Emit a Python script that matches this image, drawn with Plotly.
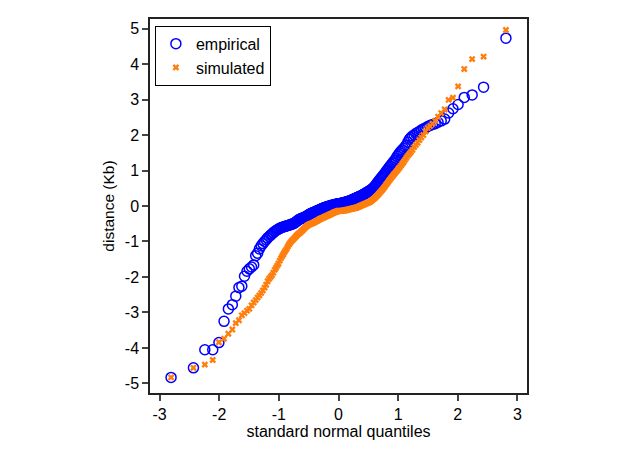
import plotly.graph_objects as go

# Standard normal quantiles (plotting positions) for 200 ordered values
q_low = [-2.807, -2.432, -2.241, -2.108, -2.005, -1.919, -1.846, -1.780, -1.722, -1.669,
         -1.621, -1.576, -1.534, -1.495, -1.458, -1.422, -1.388, -1.356, -1.326, -1.296,
         -1.268, -1.240, -1.213, -1.188, -1.163, -1.138, -1.115, -1.092, -1.069, -1.047,
         -1.026, -1.005, -0.984, -0.964, -0.944, -0.925, -0.906, -0.887, -0.868, -0.850,
         -0.833, -0.815, -0.798, -0.781, -0.764, -0.747, -0.731, -0.715, -0.699, -0.683,
         -0.667, -0.652, -0.636, -0.621, -0.606, -0.590, -0.576, -0.561, -0.546, -0.532,
         -0.517, -0.503, -0.489, -0.475, -0.461, -0.447, -0.433, -0.419, -0.405, -0.392,
         -0.378, -0.365, -0.352, -0.338, -0.325, -0.312, -0.299, -0.286, -0.273, -0.260,
         -0.247, -0.234, -0.221, -0.208, -0.196, -0.183, -0.170, -0.157, -0.145, -0.132,
         -0.119, -0.107, -0.094, -0.082, -0.069, -0.056, -0.044, -0.031, -0.019, -0.006]
q_high = [0.006, 0.019, 0.031, 0.044, 0.056, 0.069, 0.082, 0.094, 0.107, 0.119,
          0.132, 0.145, 0.157, 0.170, 0.183, 0.196, 0.208, 0.221, 0.234, 0.247,
          0.260, 0.273, 0.286, 0.299, 0.312, 0.325, 0.338, 0.352, 0.365, 0.378,
          0.392, 0.405, 0.419, 0.433, 0.447, 0.461, 0.475, 0.489, 0.503, 0.517,
          0.532, 0.546, 0.561, 0.576, 0.590, 0.606, 0.621, 0.636, 0.652, 0.667,
          0.683, 0.699, 0.715, 0.731, 0.747, 0.764, 0.781, 0.798, 0.815, 0.833,
          0.850, 0.868, 0.887, 0.906, 0.925, 0.944, 0.964, 0.984, 1.005, 1.026,
          1.047, 1.069, 1.092, 1.115, 1.138, 1.163, 1.188, 1.213, 1.240, 1.268,
          1.296, 1.326, 1.356, 1.388, 1.422, 1.458, 1.495, 1.534, 1.576, 1.621,
          1.669, 1.722, 1.780, 1.846, 1.919, 2.005, 2.108, 2.241, 2.432, 2.807]

# Empirical distances (Kb), sorted
emp_low = [-4.83, -4.56, -4.05, -4.05, -3.85, -3.25, -2.90, -2.78, -2.54, -2.30,
           -2.26, -1.98, -1.84, -1.77, -1.72, -1.66, -1.40, -1.33, -1.21, -1.12,
           -1.06, -1.00, -0.95, -0.90, -0.86, -0.82, -0.79, -0.75, -0.72, -0.69,
           -0.67, -0.65, -0.63, -0.61, -0.60, -0.59, -0.58, -0.57, -0.56, -0.55,
           -0.54, -0.53, -0.52, -0.51, -0.50, -0.49, -0.47, -0.45, -0.43, -0.41,
           -0.39, -0.37, -0.36, -0.35, -0.34, -0.33, -0.32, -0.31, -0.30, -0.28,
           -0.27, -0.25, -0.24, -0.22, -0.21, -0.20, -0.19, -0.18, -0.17, -0.16,
           -0.15, -0.14, -0.13, -0.12, -0.11, -0.10, -0.09, -0.08, -0.07, -0.06,
           -0.05, -0.04, -0.04, -0.03, -0.02, -0.02, -0.01, 0.00, 0.00, 0.01,
           0.02, 0.02, 0.03, 0.03, 0.04, 0.04, 0.05, 0.05, 0.06, 0.06]
emp_high = [0.06, 0.07, 0.07, 0.08, 0.08, 0.09, 0.09, 0.10, 0.10, 0.11,
            0.12, 0.12, 0.13, 0.14, 0.14, 0.15, 0.16, 0.17, 0.18, 0.19,
            0.20, 0.21, 0.22, 0.23, 0.24, 0.25, 0.26, 0.27, 0.28, 0.29,
            0.30, 0.31, 0.33, 0.34, 0.35, 0.37, 0.38, 0.40, 0.41, 0.43,
            0.44, 0.46, 0.48, 0.50, 0.52, 0.55, 0.58, 0.62, 0.65, 0.69,
            0.72, 0.76, 0.79, 0.82, 0.86, 0.89, 0.93, 0.97, 1.01, 1.05,
            1.09, 1.13, 1.17, 1.21, 1.25, 1.29, 1.34, 1.40, 1.45, 1.50,
            1.54, 1.58, 1.62, 1.67, 1.72, 1.80, 1.88, 1.93, 1.97, 2.00,
            2.04, 2.07, 2.10, 2.14, 2.17, 2.20, 2.24, 2.27, 2.30, 2.32,
            2.36, 2.40, 2.45, 2.62, 2.74, 2.86, 3.06, 3.13, 3.35, 4.73]

# Simulated distances (Kb), sorted
sim_low = [-4.83, -4.56, -4.47, -4.34, -3.84, -3.74, -3.60, -3.48, -3.30, -3.22,
           -3.08, -3.02, -2.95, -2.90, -2.80, -2.72, -2.65, -2.58, -2.52, -2.45,
           -2.38, -2.30, -2.22, -2.12, -2.05, -2.00, -1.95, -1.88, -1.80, -1.74,
           -1.68, -1.62, -1.54, -1.47, -1.41, -1.36, -1.30, -1.25, -1.20, -1.14,
           -1.09, -1.05, -1.01, -0.98, -0.95, -0.92, -0.89, -0.86, -0.83, -0.80,
           -0.78, -0.76, -0.74, -0.71, -0.69, -0.66, -0.64, -0.61, -0.59, -0.56,
           -0.55, -0.53, -0.52, -0.51, -0.50, -0.49, -0.48, -0.47, -0.46, -0.45,
           -0.43, -0.42, -0.41, -0.40, -0.38, -0.37, -0.36, -0.35, -0.34, -0.33,
           -0.32, -0.31, -0.30, -0.29, -0.28, -0.27, -0.26, -0.25, -0.24, -0.23,
           -0.22, -0.21, -0.20, -0.19, -0.18, -0.17, -0.16, -0.16, -0.15, -0.14]
sim_high = [-0.14, -0.14, -0.14, -0.14, -0.14, -0.13, -0.13, -0.13, -0.12, -0.12,
            -0.11, -0.11, -0.10, -0.10, -0.09, -0.09, -0.08, -0.08, -0.07, -0.07,
            -0.06, -0.06, -0.05, -0.05, -0.04, -0.03, -0.02, -0.01, 0.00, 0.01,
            0.02, 0.03, 0.04, 0.05, 0.06, 0.07, 0.08, 0.09, 0.10, 0.11,
            0.12, 0.14, 0.16, 0.18, 0.20, 0.22, 0.25, 0.27, 0.30, 0.33,
            0.36, 0.39, 0.42, 0.45, 0.48, 0.52, 0.56, 0.60, 0.64, 0.68,
            0.72, 0.76, 0.80, 0.84, 0.88, 0.92, 0.96, 1.00, 1.05, 1.09,
            1.14, 1.19, 1.24, 1.30, 1.36, 1.42, 1.47, 1.52, 1.58, 1.66,
            1.72, 1.78, 1.86, 1.93, 2.00, 2.10, 2.20, 2.25, 2.32, 2.40,
            2.52, 2.62, 2.72, 2.99, 3.05, 3.37, 3.86, 4.14, 4.21, 4.96]

x_ticks = [-3, -2, -1, 0, 1, 2, 3]
x_tick_labels = ["-3", "-2", "-1", "0", "1", "2", "3"]
y_ticks = [-5, -4, -3, -2, -1, 0, 1, 2, 3, 4, 5]
y_tick_labels = ["-5", "-4", "-3", "-2", "-1", "0", "1", "2", "3", "4", "5"]

quantiles = q_low + q_high
empirical = emp_low + emp_high
simulated = sim_low + sim_high

FONT = "Liberation Sans, Arial, sans-serif"

fig = go.Figure()
fig.add_trace(go.Scatter(
    x=quantiles, y=empirical, mode="markers", name="empirical",
    marker=dict(symbol="circle-open", size=10, color="#0000FF",
                line=dict(width=1.5, color="#0000FF")),
))
fig.add_trace(go.Scatter(
    x=quantiles, y=simulated, mode="markers", name="simulated",
    marker=dict(symbol="x", size=6, color="#FF7F0E", line=dict(width=0)),
))

axis_common = dict(
    showline=True, mirror=True, linecolor="#222222", linewidth=1.5,
    ticks="outside", ticklen=6, tickwidth=1.5, tickcolor="#444444",
    showgrid=False, zeroline=False,
    tickfont=dict(family=FONT, size=16, color="black"),
)

fig.update_layout(
    width=627, height=456,
    margin=dict(l=142, r=108, t=9, b=71),
    paper_bgcolor="white", plot_bgcolor="white",
    font=dict(family=FONT, size=16, color="black"),
    xaxis=dict(range=[-3.16, 3.16], tickvals=x_ticks, ticktext=x_tick_labels,
               title=dict(text="standard normal quantiles", standoff=2,
                          font=dict(family=FONT, size=16)),
               **axis_common),
    yaxis=dict(range=[-5.27, 5.27], tickvals=y_ticks, ticktext=y_tick_labels,
               title=dict(text="distance (Kb)", standoff=6,
                          font=dict(family=FONT, size=15.5)),
               **axis_common),
    legend=dict(x=0.013, y=0.982, xanchor="left", yanchor="top",
                bordercolor="black", borderwidth=1, bgcolor="white",
                font=dict(family=FONT, size=16), itemwidth=30,
                tracegroupgap=0),
    showlegend=True,
)

fig.write_html("out.html")
